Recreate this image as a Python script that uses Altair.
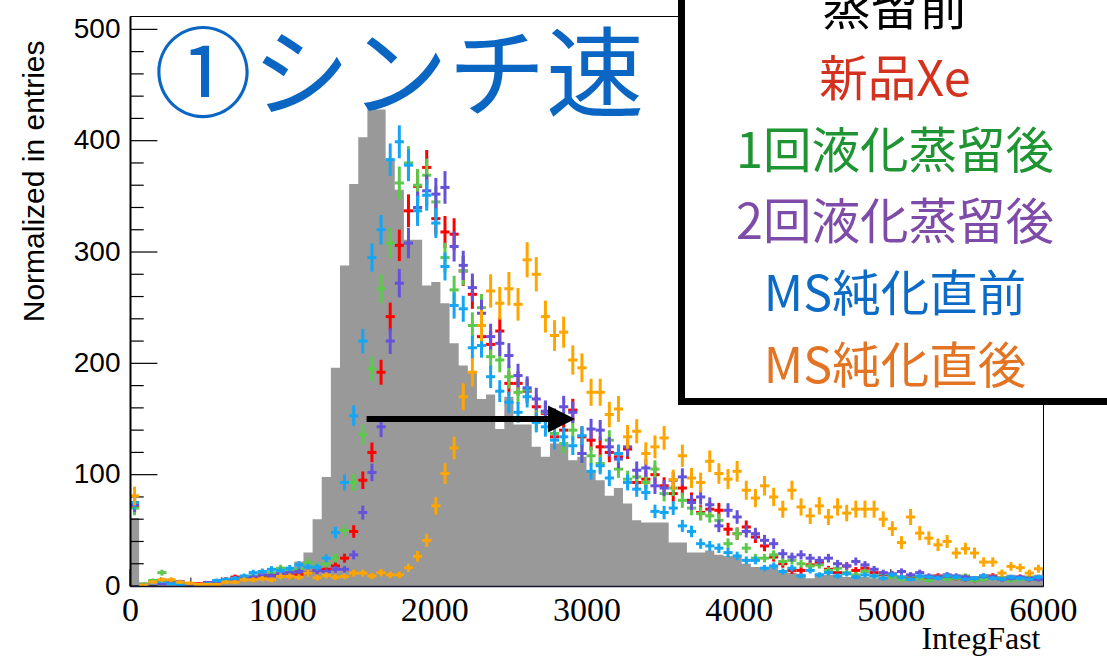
import altair as alt
import numpy as np
import pandas as pd

# ---------------- data ----------------
X_MIN, X_MAX = 0, 6000
Y_MIN, Y_MAX = 0, 512
BIN_WIDTH = 60

gray_counts = [
    61, 1, 3, 4, 3, 4, 3, 2, 3, 4,
    4, 8, 9, 10, 11, 12, 13, 15, 22, 30,
    60, 98, 196, 288, 361, 403, 430, 428, 382, 356,
    311, 311, 270, 273, 254, 218, 198, 192, 168, 172,
    141, 170, 145, 145, 125, 116, 128, 128, 113, 116,
    104, 95, 81, 88, 74, 59, 57, 57, 57, 39,
    39, 30, 30, 32, 28, 27, 26, 20, 17, 17,
    17, 12, 12, 11, 7, 11, 10, 9, 8, 9,
    8, 7, 8, 9, 7, 8, 9, 10, 8, 9,
    10, 8, 9, 10, 8, 9, 10, 9, 8, 10]

red_counts = [
    72, 1, 4, 5, 3, 2, 1, 2, 3, 4,
    6, 8, 7, 8, 9, 10, 10, 9, 10, 12,
    14, 15, 18, 25, 49, 95, 120, 192, 242, 306,
    337, 359, 376, 330, 318, 316, 283, 262, 224, 217,
    229, 182, 182, 175, 161, 155, 134, 140, 158, 134,
    131, 125, 120, 116, 123, 93, 96, 100, 90, 83,
    88, 77, 66, 69, 68, 51, 47, 53, 44, 36,
    26, 20, 14, 14, 19, 21, 15, 12, 18, 14,
    16, 12, 10, 9, 8, 7, 8, 7, 9, 8,
    7, 6, 5, 7, 9, 6, 7, 8, 6, 7]

green_counts = [
    70, 2, 5, 12, 4, 3, 2, 1, 2, 4,
    5, 6, 8, 9, 10, 12, 16, 14, 15, 21,
    18, 20, 25, 50, 93, 136, 195, 267, 308, 362,
    380, 360, 369, 345, 295, 266, 283, 234, 250, 206,
    203, 188, 174, 176, 150, 156, 137, 128, 140, 119,
    117, 110, 131, 105, 96, 98, 93, 105, 83, 88,
    77, 70, 65, 63, 59, 38, 47, 34, 25, 25,
    28, 22, 23, 20, 18, 19, 14, 16, 12, 10,
    13, 9, 11, 8, 6, 9, 7, 5, 8, 6,
    7, 9, 5, 6, 8, 7, 5, 6, 8, 6]

purple_counts = [
    73, 1, 3, 2, 3, 4, 2, 1, 3, 4,
    5, 6, 7, 8, 10, 9, 11, 12, 13, 12,
    14, 13, 15, 15, 28, 66, 102, 143, 220, 272,
    308, 340, 355, 352, 358, 305, 288, 268, 245, 224,
    218, 207, 189, 178, 168, 157, 150, 161, 156, 119,
    141, 140, 125, 114, 125, 104, 106, 90, 88, 95,
    98, 75, 80, 73, 54, 68, 62, 49, 47, 41,
    38, 29, 26, 28, 25, 23, 25, 20, 18, 22,
    19, 15, 12, 11, 13, 10, 12, 9, 8, 10,
    9, 8, 7, 9, 8, 6, 7, 8, 7, 6]

blue_counts = [
    75, 1, 3, 4, 2, 1, 2, 1, 2, 5,
    6, 7, 9, 12, 13, 15, 14, 16, 19, 17,
    17, 25, 48, 93, 153, 220, 295, 320, 383, 399,
    378, 337, 351, 326, 287, 252, 249, 214, 216, 188,
    175, 165, 156, 170, 147, 143, 131, 134, 126, 135,
    103, 108, 97, 119, 93, 87, 84, 67, 66, 70,
    54, 49, 38, 36, 34, 30, 27, 23, 23, 16,
    18, 13, 16, 9, 14, 10, 12, 9, 11, 8,
    10, 9, 7, 10, 8, 6, 9, 8, 7, 9,
    8, 6, 7, 9, 7, 6, 8, 7, 6, 8]

orange_counts = [
    81, 1, 3.5, 5.6, 5.6, 3.5, 2.5, 1.5, 1.5, 1.5,
    3.5, 3.5, 5.6, 5.6, 6.5, 5.6, 8.6, 8.6, 8, 11.6,
    7.4, 9.5, 8, 8.6, 11.6, 11.6, 9, 12, 10, 10,
    16.4, 26.6, 41, 72, 101, 124, 170, 192, 234, 265,
    254, 267, 253, 293, 280, 242, 225, 228, 203, 196,
    174, 174, 154, 159, 134, 139, 119, 125, 133, 95.5,
    117, 97, 93, 112, 101, 96, 103, 86, 79, 90,
    80, 69, 86, 71, 63, 72, 62, 71, 65.5, 69,
    69, 69, 60, 51.5, 39, 62, 47.5, 43, 37, 40,
    29.6, 33.5, 29.6, 21.5, 21.5, 11.6, 17.6, 16.4, 11.6, 15.5]

series_names = ["新品Xe", "1回液化蒸留後", "2回液化蒸留後", "MS純化直前", "MS純化直後"]
series_counts = [red_counts, green_counts, purple_counts, blue_counts, orange_counts]
series_colors = ["#FF0000", "#5CC94C", "#6552DA", "#14A6F5", "#FFA500"]
# normalisation factor of each sample (error = sqrt(value * factor))
series_norm = [0.65, 0.6, 0.6, 0.55, 0.85]

legend_labels = ["蒸留前", "新品Xe", "1回液化蒸留後", "2回液化蒸留後", "MS純化直前", "MS純化直後"]
legend_colors = ["#000000", "#D2321E", "#1E9432", "#7E4CA8", "#0B6BC6", "#E27424"]

title_text = "①シンチ速"
x_title = "IntegFast"
y_title = "Normalized in entries"

arrow_from, arrow_to, arrow_y = 1555, 2925, 150

x_major = list(range(0, 6001, 1000))
x_minor = list(range(0, 6001, 200))
y_major = list(range(0, 501, 100))
y_minor = list(range(0, 501, 20))

# ---------------- layout ----------------
W, H = 913, 570
PAD = {"left": 130, "top": 16, "right": 64, "bottom": 70}

xs = alt.Scale(domain=[X_MIN, X_MAX], nice=False, zero=False)
ys = alt.Scale(domain=[Y_MIN, Y_MAX], nice=False, zero=False)

x_axis = alt.Axis(
    values=x_major, format="d", ticks=False, tickSize=0, grid=False,
    labelFont="Liberation Serif", labelFontSize=34, labelColor="black",
    labelBaseline="alphabetic", labelPadding=34, labelFlush=False, labelOverlap=False,
    domainColor="#151530", domainWidth=1.5,
    title=x_title, titleFont="Liberation Serif", titleFontSize=32, titleFontWeight="normal",
    titleColor="black", titleAnchor="end", titleAlign="right", titleBaseline="alphabetic",
    titleX=W - 3, titleY=62, zindex=1)

y_axis = alt.Axis(
    values=y_major, format="d", ticks=False, tickSize=0, grid=False,
    labelFont="Liberation Sans", labelFontSize=28, labelColor="black",
    labelPadding=10, labelFlush=False, labelOverlap=False,
    domainColor="black", domainWidth=2,
    title=y_title, titleFont="Liberation Sans", titleFontSize=30, titleFontWeight="normal",
    titleColor="black", titleAngle=270, titleAnchor="end", titleAlign="right",
    titleBaseline="middle", titleX=-96, titleY=24, zindex=1)


def X(field):
    return alt.X(field, scale=xs, axis=x_axis)


def Y(field):
    return alt.Y(field, scale=ys, axis=y_axis)


layers = []

# x ticks (drawn below the histogram, like the original)
xt_df = pd.DataFrame({"v": x_minor})
xt_df["major"] = xt_df["v"].isin(x_major)
layers.append(
    alt.Chart(xt_df[xt_df.major]).mark_rule(color="black", strokeWidth=1).encode(
        x=X("v:Q"), y=alt.value(H), y2=alt.value(H - 17)))
layers.append(
    alt.Chart(xt_df[~xt_df.major]).mark_rule(color="black", strokeWidth=1).encode(
        x=X("v:Q"), y=alt.value(H), y2=alt.value(H - 8.5)))

# grey histogram as a stepped area (no seams between bins)
gray_df = pd.DataFrame({"lo": np.arange(len(gray_counts) + 1) * BIN_WIDTH,
                        "val": gray_counts + [gray_counts[-1]]})
layers.append(
    alt.Chart(gray_df).mark_area(color="#999999", interpolate="step-after", opacity=1).encode(
        x=X("lo:Q"), y=Y("val:Q"), y2=alt.datum(0)))

# y ticks (inward)
yt_df = pd.DataFrame({"v": y_minor})
yt_df["major"] = yt_df["v"].isin(y_major)
layers.append(
    alt.Chart(yt_df[yt_df.major]).mark_rule(color="black", strokeWidth=1.2).encode(
        y=Y("v:Q"), x=alt.value(0), x2=alt.value(27.4)))
layers.append(
    alt.Chart(yt_df[~yt_df.major]).mark_rule(color="black", strokeWidth=1.2).encode(
        y=Y("v:Q"), x=alt.value(0), x2=alt.value(13.7)))

# error-bar series
for name, counts, col, k in zip(series_names, series_counts, series_colors, series_norm):
    d = pd.DataFrame({"val": counts})
    d["lo"] = np.arange(len(counts)) * BIN_WIDTH
    d["hi"] = d["lo"] + BIN_WIDTH
    d["center"] = d["lo"] + BIN_WIDTH / 2
    err = np.sqrt(d["val"] * k)
    d["ylo"] = (d["val"] - err).clip(lower=0)
    d["yhi"] = d["val"] + err
    base = alt.Chart(d)
    layers.append(base.mark_rule(color=col, strokeWidth=3).encode(
        x=X("center:Q"), y=Y("ylo:Q"), y2="yhi:Q"))
    layers.append(base.mark_rule(color=col, strokeWidth=3).encode(
        x=X("lo:Q"), x2="hi:Q", y=Y("val:Q")))

# arrow
arrow_df = pd.DataFrame({"x0": [arrow_from], "x1": [arrow_to], "y": [arrow_y]})
layers.append(alt.Chart(arrow_df).mark_rule(color="black", strokeWidth=6, x2Offset=-14).encode(
    x=X("x0:Q"), x2="x1:Q", y=Y("y:Q")))
layers.append(alt.Chart(arrow_df).mark_point(
    shape="M -1 -1 L 1 0 L -1 1 Z", size=729, filled=True, color="black",
    opacity=1, strokeWidth=0, xOffset=-13.5).encode(x=X("x1:Q"), y=Y("y:Q")))

# big title
layers.append(alt.Chart(pd.DataFrame({"t": [title_text]})).mark_text(
    font="Noto Sans CJK JP", fontSize=98, color="#0A66C2", align="left",
    baseline="middle").encode(text="t:N", x=alt.value(24), y=alt.value(64)))

# legend box
layers.append(alt.Chart(pd.DataFrame({"a": [0]})).mark_rect(
    fill="white", stroke="black", strokeWidth=7).encode(
    x=alt.value(551.5), x2=alt.value(1000), y=alt.value(-40), y2=alt.value(385.5)))
for i, (lab, col) in enumerate(zip(legend_labels, legend_colors)):
    layers.append(alt.Chart(pd.DataFrame({"t": [lab]})).mark_text(
        font="Noto Sans CJK JP", fontSize=48.5, color=col, align="center",
        baseline="middle").encode(text="t:N", x=alt.value(765),
                                  y=alt.value(-6.5 + 71.6 * i)))

chart = alt.layer(*layers).properties(
    width=W, height=H, padding=PAD,
    autosize=alt.AutoSizeParams(type="none"),
    background="white",
).configure_view(stroke="black", strokeWidth=1)

chart.save("out.html", embed_options={"renderer": "svg", "actions": False})
